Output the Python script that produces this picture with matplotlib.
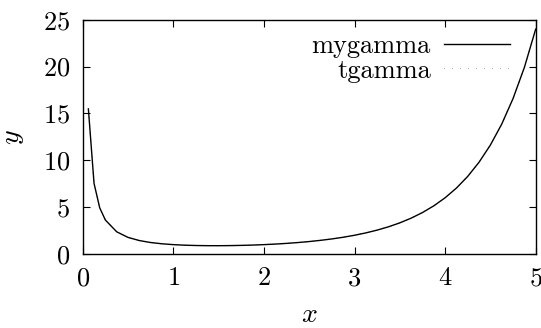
import numpy as np
import matplotlib
matplotlib.use("Agg")
import matplotlib.pyplot as plt

plt.rcParams['font.family'] = ['cmr10']
plt.rcParams['mathtext.fontset'] = 'cm'
plt.rcParams['axes.formatter.use_mathtext'] = True

# sample points and values
x = [0.0625, 0.125, 0.1875, 0.25, 0.375, 0.5, 0.625, 0.75, 0.875, 1.0,
     1.125, 1.25, 1.375, 1.5, 1.625, 1.75, 1.875, 2.0, 2.125, 2.25,
     2.375, 2.5, 2.625, 2.75, 2.875, 3.0, 3.125, 3.25, 3.375, 3.5,
     3.625, 3.75, 3.875, 4.0, 4.125, 4.25, 4.375, 4.5, 4.625, 4.75,
     4.875, 5.0]
mygamma = [15.48, 7.534, 4.93, 3.626, 2.370, 1.772, 1.435, 1.225, 1.090, 1.0,
           0.942, 0.906, 0.889, 0.886, 0.897, 0.919, 0.953, 1.0, 1.059, 1.133,
           1.222, 1.329, 1.457, 1.608, 1.787, 2.0, 2.251, 2.549, 2.903, 3.323,
           3.824, 4.423, 5.138, 6.0, 7.035, 8.285, 9.797, 11.63, 13.86, 16.59,
           19.91, 24.0]
tgamma = mygamma

fig = plt.figure(figsize=(5.41, 3.28), dpi=100)
ax = fig.add_axes([0.1529, 0.2256, 0.8373, 0.7143])

ax.plot(x, mygamma, color='black', lw=1.0, label='mygamma')
ax.plot(x, tgamma, color='black', lw=0.8, ls=(0, (0.3, 6.9)), label='tgamma')

ax.set_xlim(0, 5)
ax.set_ylim(0, 25)
ax.set_xticks([0, 1, 2, 3, 4, 5])
ax.set_yticks([0, 5, 10, 15, 20, 25])
ax.tick_params(direction='in', length=5, width=0.8, top=True, right=True,
               labelsize=19, pad=9)
for s in ax.spines.values():
    s.set_linewidth(1.0)

ax.set_xlabel('$x$', fontsize=20, labelpad=8)
ax.set_ylabel('$y$', fontsize=20, labelpad=12)

ax.legend(loc='upper right', bbox_to_anchor=(0.9433, 0.936), frameon=False,
          markerfirst=False, fontsize=19, handlelength=2.5, handletextpad=0.5,
          borderaxespad=0, borderpad=0, labelspacing=0.02)

fig.savefig('out.png', dpi=100)
